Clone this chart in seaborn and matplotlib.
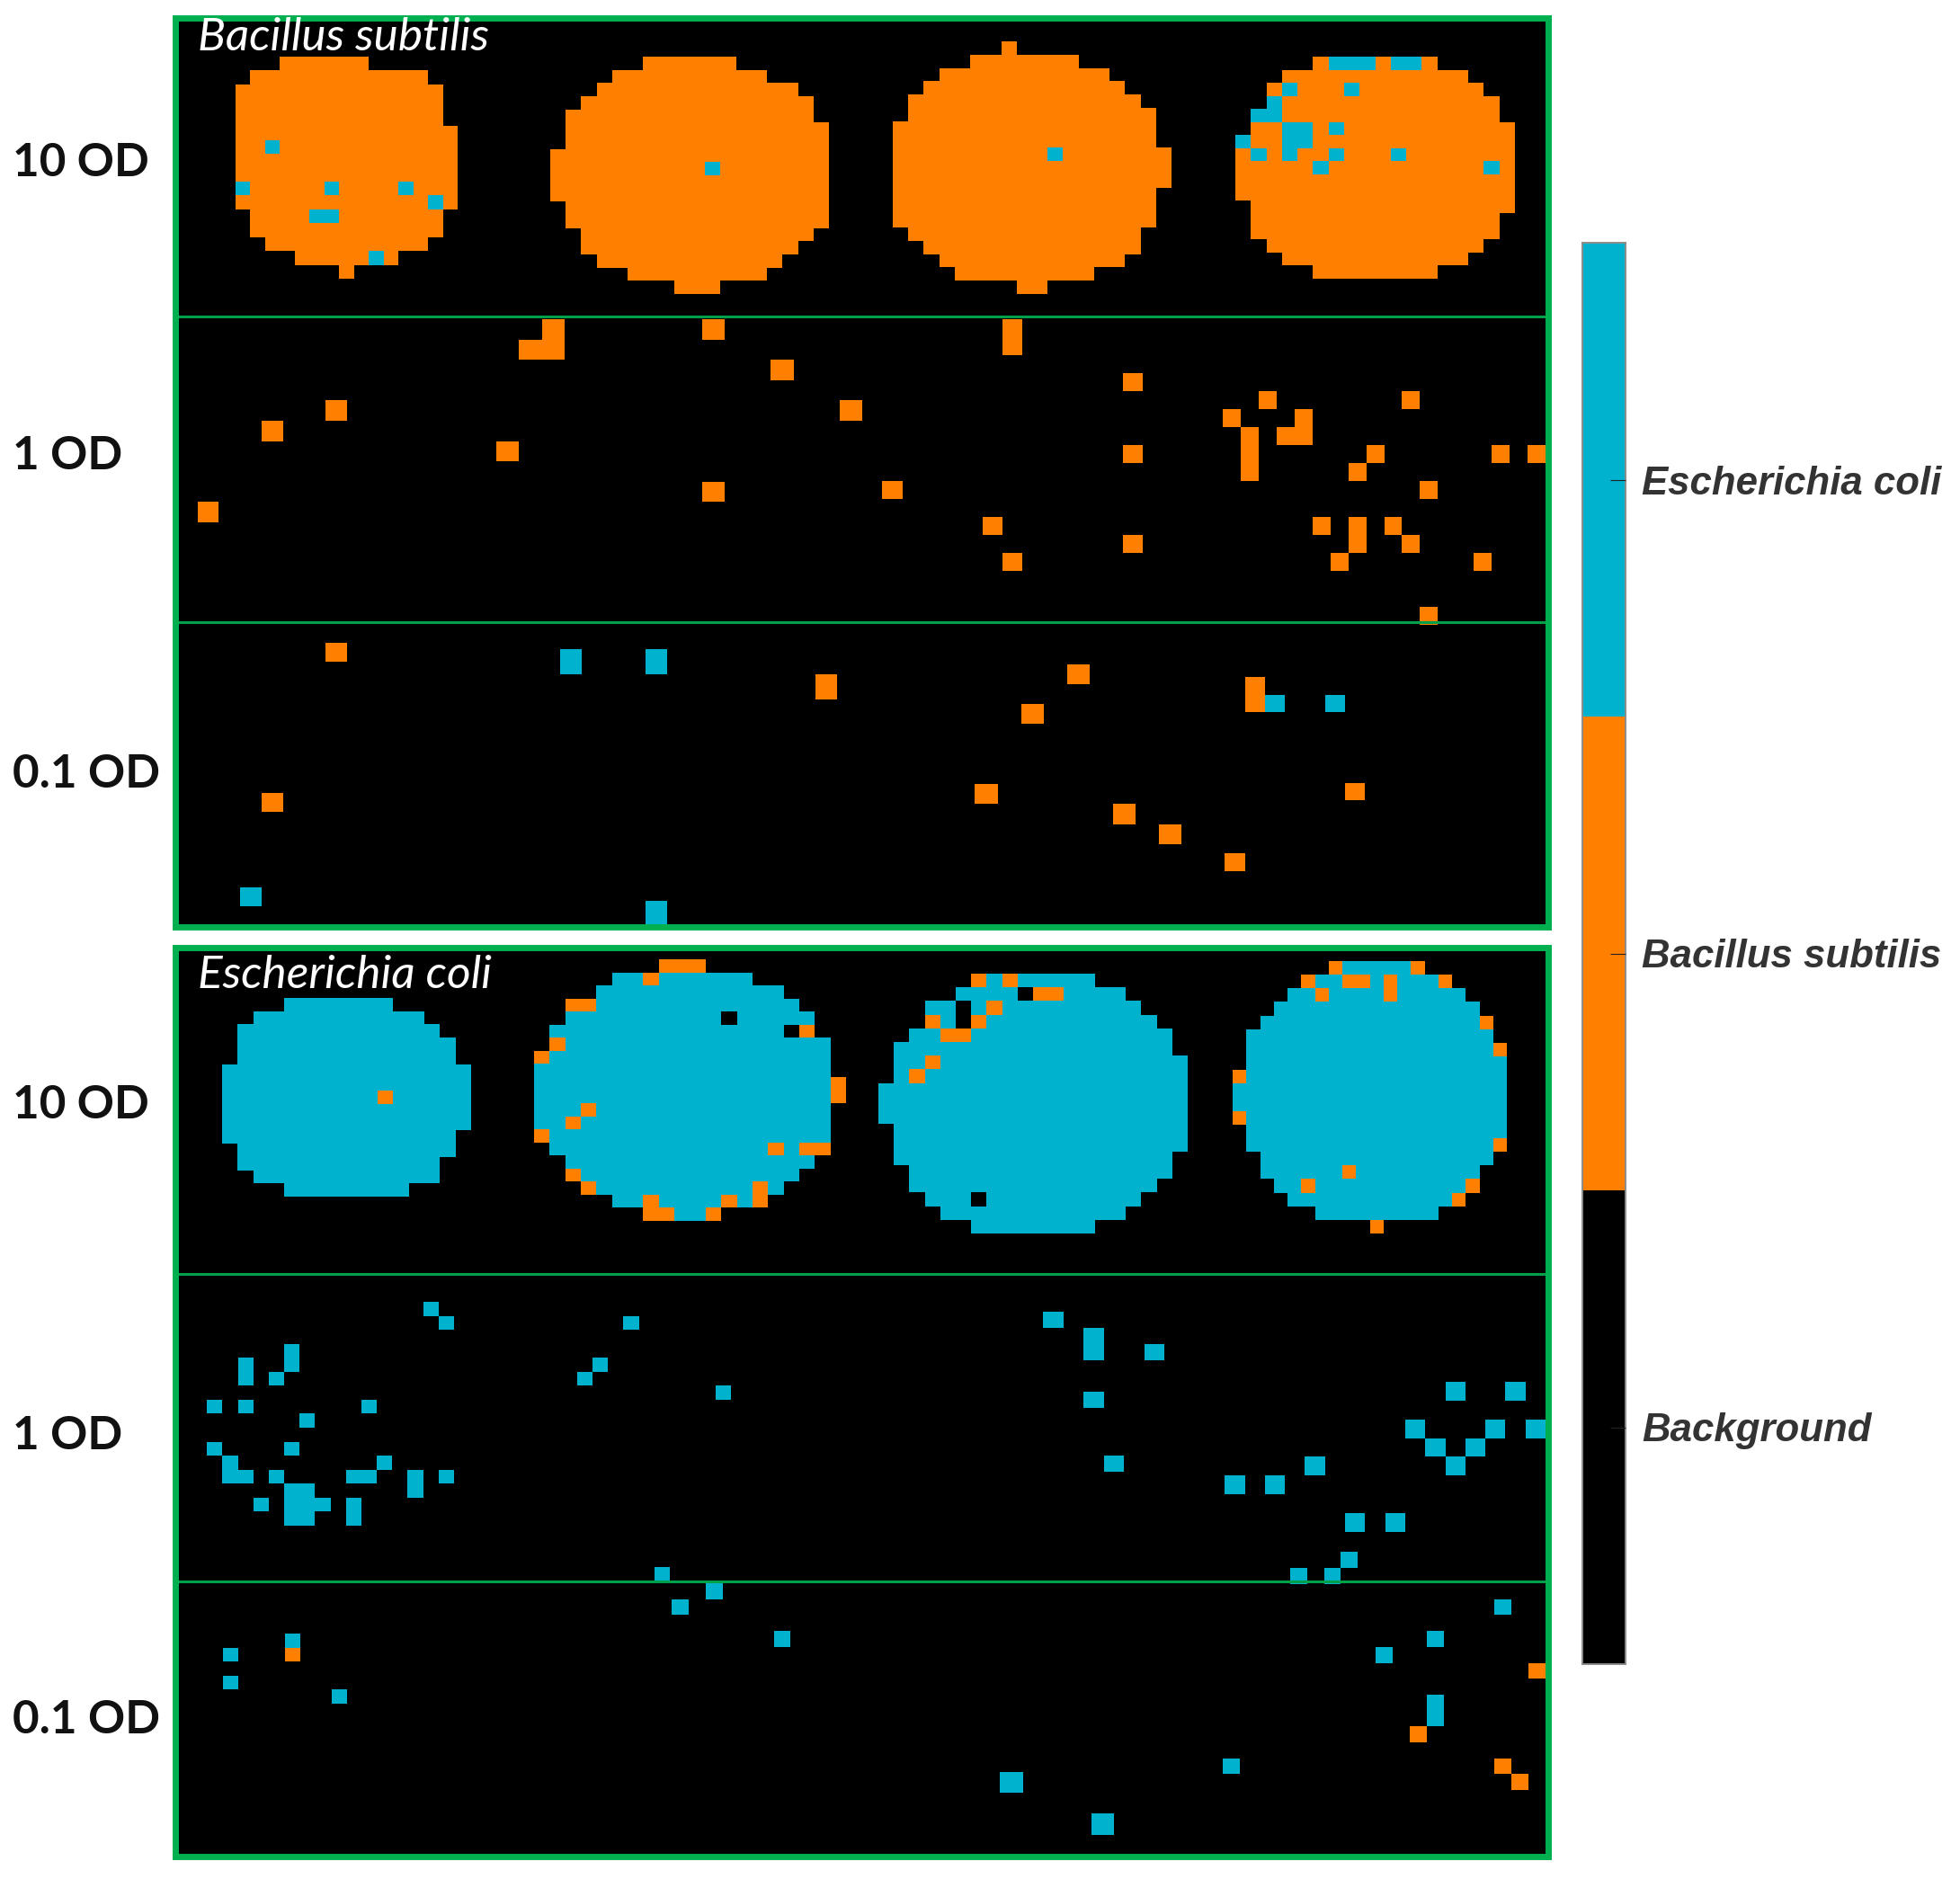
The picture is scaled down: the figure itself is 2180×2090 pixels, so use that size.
import numpy as np
import seaborn as sns
import matplotlib.pyplot as plt
from matplotlib.colors import ListedColormap

W, H = 2180, 2090

CLASS_NAMES = ["Background", "Bacillus subtilis", "Escherichia coli"]
BACKGROUND, BACILLUS, ECOLI = 0, 1, 2
PANEL_TITLES = ["Bacillus subtilis", "Escherichia coli"]
OD_LABELS = ["10 OD", "1 OD", "0.1 OD"]

# spots: disk = (first col, last col) for each row, other lists = (row, col)
BS10_1_DISK = [(3, 8), (1, 12), (0, 13), (0, 13), (0, 13), (0, 14), (0, 14), (0, 14), (0, 14), (0, 14),
               (0, 14), (1, 13), (1, 13), (2, 12), (4, 10), (7, 7)]
BS10_1_CYAN = [(6, 2), (9, 0), (9, 6), (9, 11), (10, 13), (11, 5), (11, 6), (14, 9)]

BS10_2_DISK = [(6, 11), (4, 13), (3, 15), (2, 16), (1, 16), (1, 17), (1, 17), (0, 17), (0, 17), (0, 17),
               (0, 17), (1, 17), (1, 17), (2, 16), (2, 15), (3, 14), (5, 13), (8, 10)]
BS10_2_CYAN = [(8, 10)]

BS10_3_DISK = [(7, 7), (5, 11), (3, 13), (2, 14), (1, 15), (1, 16), (0, 16), (0, 16), (0, 17), (0, 17),
               (0, 17), (0, 16), (0, 16), (0, 16), (1, 15), (2, 15), (3, 14), (4, 12), (8, 9)]
BS10_3_CYAN = [(8, 10)]

BS10_4_DISK = [(5, 12), (3, 14), (2, 15), (2, 16), (1, 16), (1, 17), (0, 17), (0, 17), (0, 17), (0, 17),
               (0, 17), (1, 17), (1, 16), (1, 16), (2, 15), (3, 14), (5, 12)]
BS10_4_CYAN = [(0, 6), (0, 7), (0, 8), (0, 10), (0, 11), (2, 3), (2, 7), (3, 2), (4, 1), (4, 2),
               (5, 3), (5, 4), (5, 6), (6, 0), (6, 3), (6, 4), (7, 1), (7, 3), (7, 6), (7, 10),
               (8, 5), (8, 16)]

BS1_1_ORANGE = [(9, 1), (5, 4), (4, 7)]
BS1_2_ORANGE = [(0, 2), (1, 2), (1, 1), (6, 0), (0, 9), (8, 9), (2, 12), (4, 15)]
BS1_3_ORANGE = [(0, 7), (1, 7), (9, 1), (11, 6), (13, 7), (3, 13), (7, 13), (12, 13)]
BS1_4_ORANGE = [(5, 0), (6, 1), (7, 1), (8, 1), (4, 2), (6, 3), (5, 4), (6, 4), (11, 5), (13, 6),
                (8, 7), (11, 7), (12, 7), (7, 8), (11, 9), (4, 10), (12, 10), (9, 11), (16, 11),
                (13, 14), (7, 15), (7, 17)]

BS01_1_ORANGE = [(1, 7), (9, 4)]
BS01_1_CYAN = [(14, 3)]
BS01_2_ORANGE = [(2, 15)]
BS01_2_CYAN = [(1, 3), (1, 7), (11, 7)]
BS01_3_ORANGE = [(2, 10), (4, 8), (8, 6), (9, 12), (10, 14)]
BS01_4_ORANGE = [(3, 2), (4, 2), (9, 7), (13, 1)]
BS01_4_CYAN = [(4, 3), (4, 6)]

EC10_1_DISK = [(4, 10), (2, 12), (1, 13), (1, 14), (1, 14), (0, 15), (0, 15), (0, 15), (0, 15), (0, 15),
               (0, 14), (1, 14), (1, 13), (2, 13), (4, 11)]
EC10_1_ORANGE = [(7, 10)]

EC10_2_DISK = [(8, 10), (5, 13), (4, 15), (2, 16), (2, 17), (1, 17), (1, 18), (0, 18), (0, 18), (0, 19),
               (0, 19), (0, 18), (0, 18), (0, 18), (1, 18), (2, 17), (2, 16), (3, 15), (5, 14), (7, 11)]
EC10_2_ORANGE = [(0, 8), (0, 9), (0, 10), (1, 7), (3, 2), (3, 3), (5, 17), (6, 1), (7, 0), (9, 19),
                 (10, 19), (11, 3), (12, 2), (13, 0), (14, 15), (14, 17), (14, 18), (16, 2), (17, 3),
                 (17, 14), (18, 7), (18, 12), (18, 14), (19, 7), (19, 8), (19, 11)]
EC10_2_EMPTY = [(4, 12), (5, 16)]

EC10_3_DISK = [(6, 13), (5, 15), (3, 16), (3, 17), (2, 18), (1, 18), (1, 19), (1, 19), (0, 19), (0, 19),
               (0, 19), (1, 19), (1, 19), (1, 18), (2, 18), (2, 17), (3, 16), (4, 15), (6, 13)]
EC10_3_ORANGE = [(0, 6), (0, 8), (1, 10), (1, 11), (2, 7), (3, 3), (3, 6), (4, 4), (4, 5), (6, 3), (7, 2)]
EC10_3_EMPTY = [(1, 9), (2, 5), (3, 5), (16, 6)]

EC10_4_DISK = [(7, 13), (5, 15), (4, 16), (3, 17), (2, 18), (1, 18), (1, 19), (1, 19), (0, 19), (0, 19),
               (0, 19), (0, 19), (1, 19), (1, 19), (2, 18), (2, 17), (3, 17), (4, 16), (6, 14), (10, 10)]
EC10_4_ORANGE = [(0, 7), (0, 13), (1, 5), (1, 8), (1, 9), (1, 11), (1, 15), (2, 6), (2, 11), (4, 18),
                 (6, 19), (8, 0), (11, 0), (13, 19), (15, 8), (16, 5), (16, 17), (17, 16), (19, 10)]

EC1_1_CYAN = [(2, 16), (3, 17), (5, 7), (6, 7), (6, 4), (7, 4), (7, 6), (9, 2), (9, 4), (9, 12),
              (10, 8), (12, 2), (12, 7), (13, 3), (14, 3), (14, 4), (14, 6), (13, 13), (14, 11),
              (14, 12), (14, 15), (15, 15), (14, 17), (15, 7), (15, 8), (16, 5), (16, 7), (16, 8),
              (16, 9), (16, 11), (17, 11), (17, 7), (17, 8)]
EC1_2_CYAN = [(3, 4), (6, 2), (7, 1), (8, 10), (21, 6)]
EC1_3_CYAN = [(2, 1), (3, 3), (4, 3), (4, 6), (7, 3), (11, 4)]
EC1_4_CYAN = [(5, 12), (5, 15), (7, 10), (7, 14), (7, 16), (8, 11), (8, 13), (9, 12), (9, 5), (10, 1),
              (10, 3), (12, 7), (12, 9)]
EC1_5_CYAN = [(0, 3), (1, 0), (1, 2)]

EC01_1_ORANGE = [(4, 7)]
EC01_1_CYAN = [(3, 7), (4, 3), (6, 3), (7, 10)]
EC01_2_CYAN = [(0, 8), (1, 6), (3, 12)]
EC01_3_CYAN = [(9, 1), (11, 5)]
EC01_4_ORANGE = [(5, 19), (9, 12), (11, 17), (12, 18)]
EC01_4_CYAN = [(1, 17), (3, 13), (4, 10), (7, 13), (8, 13), (11, 1)]

# well layout in image pixels: (left, top, right, bottom, rows, cols)
WELL_BOXES = {
    "bs10_1": (262, 63, 509, 310, 16, 15),
    "bs10_2": (612, 63, 922, 327, 18, 18),
    "bs10_3": (993, 46, 1303, 327, 19, 18),
    "bs10_4": (1374, 63, 1685, 310, 17, 18),
    "bs1_1": (196, 355, 552, 694, 15, 15),
    "bs1_2": (552, 355, 959, 694, 15, 16),
    "bs1_3": (959, 355, 1360, 695, 17, 18),
    "bs1_4": (1360, 355, 1719, 695, 17, 18),
    "bs01_1": (196, 694, 552, 1029, 16, 15),
    "bs01_2": (552, 694, 931, 1030, 12, 16),
    "bs01_3": (931, 694, 1340, 1028, 15, 16),
    "bs01_4": (1340, 694, 1719, 1028, 17, 17),
    "ec10_1": (247, 1110, 524, 1331, 15, 16),
    "ec10_2": (594, 1067, 941, 1358, 20, 20),
    "ec10_3": (977, 1083, 1321, 1372, 19, 20),
    "ec10_4": (1371, 1069, 1676, 1372, 20, 20),
    "ec1_1": (196, 1417, 625, 1759, 22, 25),
    "ec1_2": (625, 1417, 1138, 1759, 22, 30),
    "ec1_3": (1138, 1424, 1340, 1761, 19, 9),
    "ec1_4": (1340, 1433, 1719, 1766, 16, 17),
    "ec1_5": (1435, 1726, 1510, 1762, 2, 4),
    "ec01_1": (196, 1771, 628, 2065, 19, 25),
    "ec01_2": (634, 1761, 1087, 2061, 17, 24),
    "ec01_3": (1087, 1761, 1340, 2064, 13, 10),
    "ec01_4": (1341, 1761, 1719, 2062, 17, 20),
}

WELL_DATA = {
    "bs10_1": dict(disk=BS10_1_DISK, fill=BACILLUS, cyan=BS10_1_CYAN),
    "bs10_2": dict(disk=BS10_2_DISK, fill=BACILLUS, cyan=BS10_2_CYAN),
    "bs10_3": dict(disk=BS10_3_DISK, fill=BACILLUS, cyan=BS10_3_CYAN),
    "bs10_4": dict(disk=BS10_4_DISK, fill=BACILLUS, cyan=BS10_4_CYAN),
    "bs1_1": dict(orange=BS1_1_ORANGE),
    "bs1_2": dict(orange=BS1_2_ORANGE),
    "bs1_3": dict(orange=BS1_3_ORANGE),
    "bs1_4": dict(orange=BS1_4_ORANGE),
    "bs01_1": dict(orange=BS01_1_ORANGE, cyan=BS01_1_CYAN),
    "bs01_2": dict(orange=BS01_2_ORANGE, cyan=BS01_2_CYAN),
    "bs01_3": dict(orange=BS01_3_ORANGE),
    "bs01_4": dict(orange=BS01_4_ORANGE, cyan=BS01_4_CYAN),
    "ec10_1": dict(disk=EC10_1_DISK, fill=ECOLI, orange=EC10_1_ORANGE),
    "ec10_2": dict(disk=EC10_2_DISK, fill=ECOLI, orange=EC10_2_ORANGE, empty=EC10_2_EMPTY),
    "ec10_3": dict(disk=EC10_3_DISK, fill=ECOLI, orange=EC10_3_ORANGE, empty=EC10_3_EMPTY),
    "ec10_4": dict(disk=EC10_4_DISK, fill=ECOLI, orange=EC10_4_ORANGE),
    "ec1_1": dict(cyan=EC1_1_CYAN),
    "ec1_2": dict(cyan=EC1_2_CYAN),
    "ec1_3": dict(cyan=EC1_3_CYAN),
    "ec1_4": dict(cyan=EC1_4_CYAN),
    "ec1_5": dict(cyan=EC1_5_CYAN),
    "ec01_1": dict(orange=EC01_1_ORANGE, cyan=EC01_1_CYAN),
    "ec01_2": dict(cyan=EC01_2_CYAN),
    "ec01_3": dict(cyan=EC01_3_CYAN),
    "ec01_4": dict(orange=EC01_4_ORANGE, cyan=EC01_4_CYAN),
}

GREEN = "#00B050"
cmap = ListedColormap(["#000000", "#FF8000", "#00B2CE"])


def px_axes(fig, left, top, right, bottom, **kwargs):
    # axes from image pixels, y counted from the top
    return fig.add_axes([left / W, 1 - bottom / H, (right - left) / W, (bottom - top) / H], **kwargs)


def build_grid(rows, cols, disk=None, fill=BACILLUS, orange=(), cyan=(), empty=()):
    grid = np.zeros((rows, cols), dtype=int)
    if disk:
        for r, (first, last) in enumerate(disk):
            grid[r, first:last + 1] = fill
    for cells, value in ((orange, BACILLUS), (cyan, ECOLI), (empty, BACKGROUND)):
        for r, c in cells:
            grid[r, c] = value
    return grid


sns.set_theme(style="white")
fig = plt.figure(figsize=(W / 100, H / 100), dpi=100, facecolor="white")

# black backing of both panels
panel_rects = [(195, 20, 1722, 1031), (195, 1054, 1722, 2065)]
for rect in panel_rects:
    back = px_axes(fig, *rect, zorder=0)
    back.set_facecolor("black")
    back.set_xticks([])
    back.set_yticks([])

# colour bar comes from the first heatmap
cax = px_axes(fig, 1760, 270, 1808, 1851, zorder=3)
first = True
for name, (left, top, right, bottom, rows, cols) in WELL_BOXES.items():
    grid = build_grid(rows, cols, **WELL_DATA[name])
    ax = px_axes(fig, left, top, right, bottom, zorder=1)
    sns.heatmap(
        grid,
        mask=grid == BACKGROUND,
        cmap=cmap,
        vmin=-0.5,
        vmax=2.5,
        ax=ax,
        xticklabels=False,
        yticklabels=False,
        cbar=first,
        cbar_ax=cax if first else None,
        cbar_kws={"ticks": [0, 1, 2]} if first else None,
    )
    ax.axis("off")
    first = False

cax.set_yticks([0, 1, 2])
cax.set_yticklabels(CLASS_NAMES, family="Liberation Sans", fontsize=31.5, fontweight="bold",
                    fontstyle="italic", color="#333333")
cax.set_axisbelow(False)
cax.tick_params(axis="y", direction="in", length=12, width=0.8, color="#222222", pad=13, right=True, left=False)
for spine in cax.spines.values():
    spine.set_visible(True)
    spine.set_color("#8c8c8c")
    spine.set_linewidth(1.2)

# green frames, dividers and titles on top of the wells
dividers = [(352, 692), (1417, 1759)]
title_pos = [(220, 42), (220, 1085)]
for rect, rows_y, title, (tx, ty) in zip(panel_rects, dividers, PANEL_TITLES, title_pos):
    top_ax = px_axes(fig, *rect, zorder=5)
    top_ax.patch.set_visible(False)
    top_ax.set_xlim(rect[0], rect[2])
    top_ax.set_ylim(rect[3], rect[1])
    top_ax.set_xticks([])
    top_ax.set_yticks([])
    for spine in top_ax.spines.values():
        spine.set_visible(True)
        spine.set_color(GREEN)
        spine.set_linewidth(5)
    for y in rows_y:
        top_ax.axhline(y, color="#00A04A", lw=2.2)
    top_ax.text(tx, ty, title, color="white", family="Lato", fontstyle="italic",
                fontsize=37, va="center", ha="left")

# OD labels on the left
label_y = [181, 507, 861, 1230, 1598, 1914]
for y, label in zip(label_y, OD_LABELS * 2):
    fig.text(14 / W, 1 - y / H, label, family="Lato", fontweight="bold", fontsize=36.8,
             color="#111111", va="center", ha="left")

fig.savefig("out.png", dpi=100)
